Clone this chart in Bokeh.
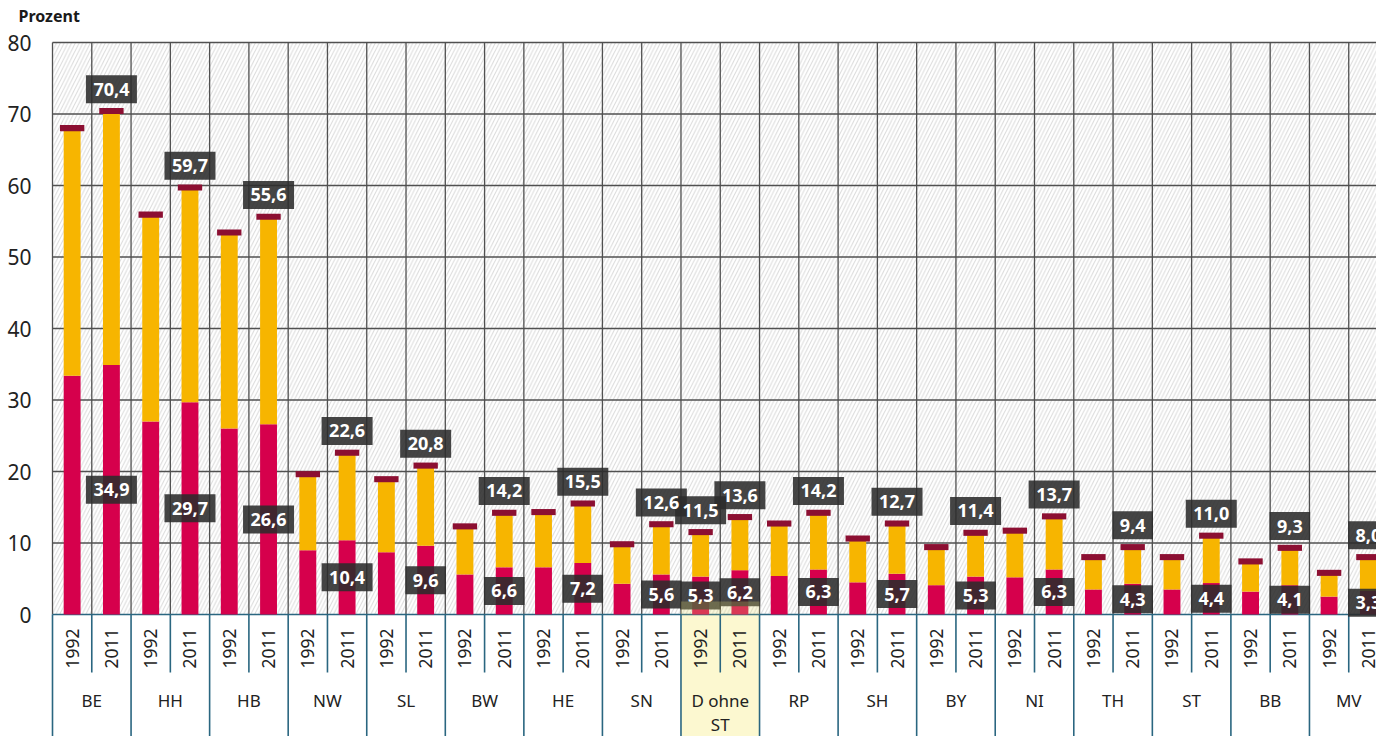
import math
from bokeh.plotting import figure
from bokeh.models import Range1d
from bokeh.core.properties import value
from bokeh.embed import file_html
from bokeh.resources import INLINE

# ---------------- data ----------------
groups = ["BE", "HH", "HB", "NW", "SL", "BW", "HE", "SN", "D ohne ST",
          "RP", "SH", "BY", "NI", "TH", "ST", "BB", "MV"]
years = ["1992", "2011"]
total_1992 = [68.0, 55.9, 53.4, 19.6, 18.9, 12.3, 14.3, 9.8, 11.5,
              12.7, 10.6, 9.4, 11.7, 8.0, 8.0, 7.4, 5.8]
crimson_1992 = [33.4, 27.0, 26.0, 9.0, 8.7, 5.6, 6.6, 4.3, 5.3,
                5.4, 4.5, 4.1, 5.2, 3.5, 3.5, 3.2, 2.5]
total_2011 = [70.4, 59.7, 55.6, 22.6, 20.8, 14.2, 15.5, 12.6, 13.6,
              14.2, 12.7, 11.4, 13.7, 9.4, 11.0, 9.3, 8.0]
crimson_2011 = [34.9, 29.7, 26.6, 10.4, 9.6, 6.6, 7.2, 5.6, 6.2,
                6.3, 5.7, 5.3, 6.3, 4.3, 4.4, 4.1, 3.3]
y_ticks = [0, 10, 20, 30, 40, 50, 60, 70, 80]
highlight_group = "D ohne ST"

# ---------------- geometry / style ----------------
W, H = 1376, 736
PX_Y = 7.15                 # px per percent
PX_X = 39.28                # px per bar slot
Y_MAX = 80 + 42 / PX_Y
Y_MIN = -(H - 614) / PX_Y
X_MIN = -52 / PX_X
X_MAX = X_MIN + W / PX_X

FONT = value("Noto Sans")
CRIMSON = "#d6004c"
YELLOW = "#f7b500"
CAP = "#8c0f32"
TEAL = "#2a6680"
GRID = "#505050"

def fmt(v):
    return f"{v:.1f}".replace(".", ",")

def px2y(px):
    return px / PX_Y

def box_w(s):
    return sum(4.8 if ch == "," else 10.4 for ch in s) + 15

p = figure(width=W, height=H, output_backend="svg", toolbar_location=None,
           x_range=Range1d(X_MIN, X_MAX), y_range=Range1d(Y_MIN, Y_MAX),
           min_border=0, min_border_left=0, min_border_right=0,
           min_border_top=0, min_border_bottom=0)
p.axis.visible = False
p.grid.visible = False
p.outline_line_color = None
p.background_fill_color = "white"
p.border_fill_color = "white"

n_slots = 2 * len(groups)

# hatched background
p.quad(left=[0], right=[n_slots + 2], bottom=[0], top=[80],
       fill_color="white", line_color=None,
       hatch_pattern="/", hatch_color="#d9d9d9", hatch_weight=1, hatch_scale=7.5)

# highlight below axis
hi = groups.index(highlight_group)
p.quad(left=[2 * hi], right=[2 * hi + 2], bottom=[Y_MIN], top=[0],
       fill_color="#fcf8d0", line_color=None)

# grid lines
p.segment(x0=[0] * len(y_ticks[1:]), x1=[n_slots + 2] * len(y_ticks[1:]),
          y0=y_ticks[1:], y1=y_ticks[1:], line_color=GRID, line_width=1.3)
vx = list(range(0, n_slots + 1))
p.segment(x0=vx, x1=vx, y0=[0] * len(vx), y1=[80] * len(vx),
          line_color=GRID, line_width=1.3)

# axis area lines
p.segment(x0=[0], x1=[n_slots + 2], y0=[0], y1=[0], line_color=TEAL, line_width=1.6)
gx = list(range(0, n_slots + 1, 2))
p.segment(x0=gx, x1=gx, y0=[0] * len(gx), y1=[Y_MIN] * len(gx),
          line_color=TEAL, line_width=1.6)
yx = list(range(1, n_slots, 2))
p.segment(x0=yx, x1=yx, y0=[0] * len(yx), y1=[-px2y(58)] * len(yx),
          line_color=TEAL, line_width=1.6)

# bars
xs, tot, cri = [], [], []
for i in range(len(groups)):
    xs += [2 * i + 0.5, 2 * i + 1.5]
    tot += [total_1992[i], total_2011[i]]
    cri += [crimson_1992[i], crimson_2011[i]]

p.vbar(x=xs, width=0.43, bottom=[0] * len(xs), top=cri,
       fill_color=CRIMSON, line_color=None)
p.vbar(x=xs, width=0.43, bottom=cri, top=tot,
       fill_color=YELLOW, line_color=None)
p.vbar(x=xs, width=0.62, bottom=[t - 0.4 for t in tot], top=[t + 0.45 for t in tot],
       fill_color=CAP, line_color=None)

# value labels
lx, ly, lt = [], [], []
for i, g in enumerate(groups):
    for j, yr in enumerate(years):
        if yr == "2011" or g == highlight_group:
            x = 2 * i + j + 0.5
            t = total_2011[i] if j else total_1992[i]
            c = crimson_2011[i] if j else crimson_1992[i]
            lx += [x, x]
            ly += [t + px2y(22), c / 2]
            lt += [fmt(t), fmt(c)]
p.rect(x=lx, y=ly, width=[box_w(s) for s in lt], height=28,
       width_units="screen", height_units="screen",
       fill_color="#2b2b2b", fill_alpha=0.88, line_color=None)
p.text(x=lx, y=ly, text=lt, text_color="white", text_font=FONT,
       text_font_style="bold", text_font_size="18px",
       text_align="center", text_baseline="middle")

# faint highlight tint above zero
p.quad(left=[2 * hi], right=[2 * hi + 2], bottom=[0], top=[px2y(13)],
       fill_color="#e8e070", fill_alpha=0.25, line_color=None)

# year labels
yl_x = [2 * i + j + 0.5 for i in range(len(groups)) for j in range(2)]
yl_t = [yr for i in range(len(groups)) for yr in years]
p.text(x=yl_x, y=[-px2y(34)] * len(yl_x), text=yl_t, angle=math.pi / 2,
       text_color="#222222", text_font=FONT, text_font_size="17.5px",
       text_align="center", text_baseline="middle")

# group labels
p.text(x=[2 * i + 1 for i in range(len(groups))], y=[-px2y(74)] * len(groups),
       text=[g.replace("ohne ", "ohne\n") for g in groups],
       text_color="#222222", text_font=FONT, text_font_size="17px",
       text_align="center", text_baseline="top", text_line_height=1.05)

# y tick labels
p.text(x=[-21 / PX_X] * len(y_ticks), y=y_ticks, text=[str(v) for v in y_ticks],
       text_color="#222222", text_font=FONT, text_font_size="21px",
       text_align="right", text_baseline="middle")

# axis title
p.text(x=[X_MIN + 18 / PX_X], y=[Y_MAX - px2y(15)], text=["Prozent"],
       text_color="#1a1a1a", text_font=FONT, text_font_style="bold",
       text_font_size="16px", text_align="left", text_baseline="middle")

open("out.html", "w").write(file_html(p, INLINE))
